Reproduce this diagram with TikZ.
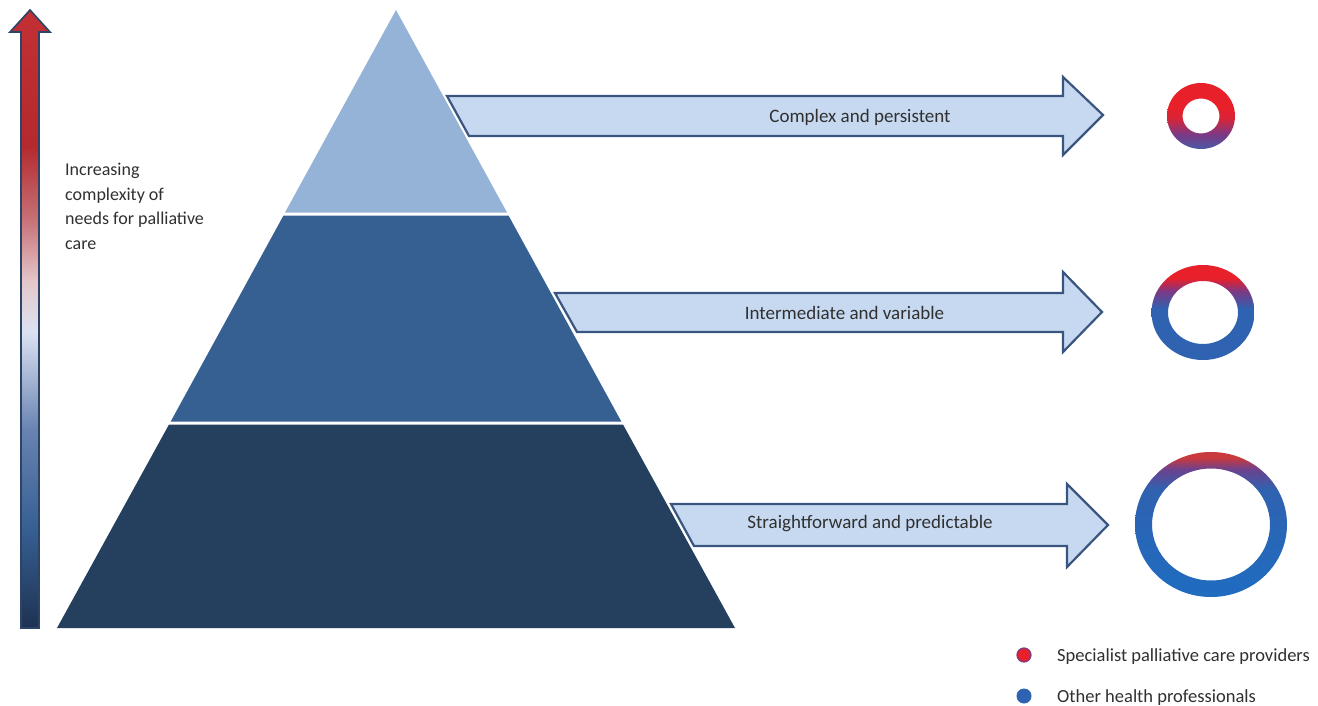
\documentclass[tikz,border=0pt]{standalone}
\usepackage{fontspec}
\setmainfont{Carlito}
\definecolor{tierA}{HTML}{95B3D7}
\definecolor{tierB}{HTML}{365F92}
\definecolor{tierC}{HTML}{253F5F}
\definecolor{arrFill}{HTML}{C6D9F1}
\definecolor{arrLine}{HTML}{3A5580}
\definecolor{txt}{HTML}{303030}
\definecolor{rRed}{HTML}{E8202A}
\definecolor{rRedDim}{HTML}{C83A3E}
\definecolor{rPurple}{HTML}{7A3A86}
\definecolor{rBluePurple}{HTML}{4A58A4}
\definecolor{rBlue2}{HTML}{2F62B0}
\definecolor{rBlue3}{HTML}{1F6CC0}
\definecolor{vNavy}{HTML}{1E3252}
\definecolor{vMid}{HTML}{42649E}
\definecolor{vLight}{HTML}{DCE2F2}
\definecolor{vPink}{HTML}{D2A2A8}
\definecolor{vRed}{HTML}{B42A2E}
\definecolor{vTop}{HTML}{C23034}
\pgfdeclareverticalshading{vshade}{100bp}{color(0bp)=(vNavy); color(25bp)=(vNavy); color(33bp)=(tierB); color(41bp)=(vMid!80!white); color(49bp)=(vLight); color(53bp)=(vPink!60!white); color(58bp)=(vPink!60!vRed); color(64bp)=(vRed); color(75bp)=(vTop); color(100bp)=(vTop)}
\pgfdeclareverticalshading{ringA}{100bp}{color(0bp)=(rBluePurple); color(25bp)=(rBluePurple); color(36bp)=(rPurple); color(48bp)=(rRed!85!rPurple); color(56bp)=(rRed); color(75bp)=(rRed); color(100bp)=(rRed)}
\pgfdeclareverticalshading{ringB}{100bp}{color(0bp)=(rBlue2); color(25bp)=(rBlue2); color(52bp)=(rBlue2); color(61bp)=(rPurple); color(68bp)=(rRed); color(75bp)=(rRed); color(100bp)=(rRed)}
\pgfdeclareverticalshading{ringC}{100bp}{color(0bp)=(rBlue3); color(25bp)=(rBlue3); color(62bp)=(rBlue2); color(69bp)=(rPurple!80!rBlue2); color(73bp)=(rRedDim); color(75bp)=(rRedDim); color(100bp)=(rRedDim)}
\tikzset{
  bigarrow/.style={fill=arrFill, draw=arrLine, line width=2.2pt, line join=miter},
  lbl/.style={font=\fontsize{19}{22}\selectfont, text=txt, inner sep=0pt},
  sidelbl/.style={font=\fontsize{18}{22}\selectfont, text=txt, inner sep=0pt, anchor=base west},
  leglbl/.style={font=\fontsize{18.5}{22}\selectfont, text=txt, inner sep=0pt, anchor=base west},
}
\begin{document}
\begin{tikzpicture}[x=1pt,y=-1pt]
\useasboundingbox (0,0) rectangle (1318,706);
\fill[white] (0,0) rectangle (1318,706);

% vertical arrow
\shade[shading=vshade, draw=arrLine!80!black, line width=1.6pt, line join=miter]
  (21,628) -- (21,32) -- (10,32) -- (30,10) -- (50,32) -- (39,32) -- (39,628) -- cycle;
\node[sidelbl] (l1) at (65,176) {Increasing};
\node[sidelbl] (l2) at (65,200.5) {complexity of};
\node[sidelbl] (l3) at (65,225) {needs for palliative};
\node[sidelbl] (l4) at (65,249.5) {care};

% horizontal arrows
\draw[bigarrow] (447,96) -- (1063,96) -- (1063,77) -- (1103,115) -- (1063,155) -- (1063,136) -- (469,136) -- cycle;
\draw[bigarrow] (555,293) -- (1063,293) -- (1063,272) -- (1102,312) -- (1063,352) -- (1063,332) -- (577,332) -- cycle;
\draw[bigarrow] (671,504) -- (1067,504) -- (1067,484) -- (1108,525) -- (1067,567) -- (1067,546) -- (694,546) -- cycle;
\node[lbl] (a1) at (860,117) {Complex and persistent};
\node[lbl] (a2) at (844.5,313) {Intermediate and variable};
\node[lbl] (a3) at (870,524) {Straightforward and predictable};

% pyramid tiers
\fill[tierA] (396,10) -- (507,212.5) -- (285,212.5) -- cycle;
\fill[tierB] (283.5,215.5) -- (508.5,215.5) -- (621.3,421.5) -- (170.7,421.5) -- cycle;
\fill[tierC] (169,424.5) -- (623,424.5) -- (735,628) -- (57,628) -- cycle;

% rings
\shade[shading=ringA, even odd rule] (1201,116) ellipse [x radius=34, y radius=33] (1201,116) ellipse [x radius=18.5, y radius=17.5];
\shade[shading=ringB, even odd rule] (1203,312.5) ellipse [x radius=51.5, y radius=47.5] (1203,312.5) ellipse [x radius=35, y radius=31.5];
\shade[shading=ringC, even odd rule] (1211,524.5) ellipse [x radius=76, y radius=72.5] (1211,524.5) ellipse [x radius=59, y radius=56];

% legend
\fill[rRed, draw=rPurple, line width=1.2pt] (1024,655) circle [radius=7];
\fill[rBlue2] (1024,696) circle [radius=7.5];
\node[leglbl] (g1) at (1057,661) {Specialist palliative care providers};
\node[leglbl] (g2) at (1057,702.5) {Other health professionals};
\end{tikzpicture}
\end{document}
